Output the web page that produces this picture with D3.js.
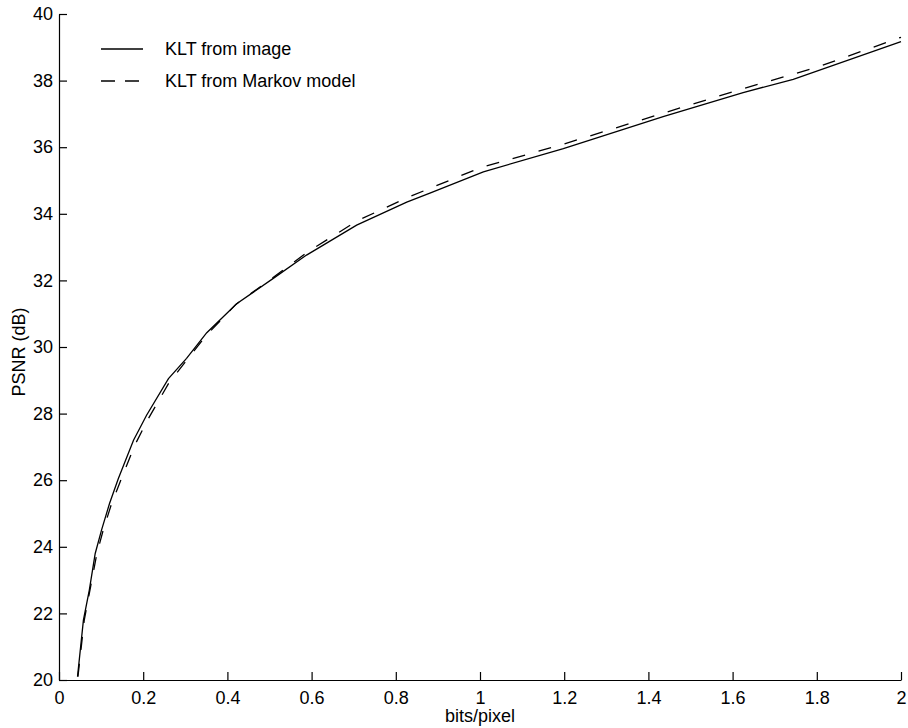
<!DOCTYPE html>
<html>
<head>
<meta charset="utf-8">
<script src="https://cdn.jsdelivr.net/npm/d3@7"></script>
<style>
  body { margin: 0; background: #fff; }
  text { font-family: "Liberation Sans", Arial, Helvetica, sans-serif; fill: #000; }
  .axis text { font-size: 18px; }
  .axis path, .axis line { stroke: #000; stroke-width: 1.2; }
</style>
</head>
<body>
<div id="chart"></div>
<script>
// CONST and GLOBALS
const width = 908,
  height = 728,
  margin = { top: 14, bottom: 48, left: 59, right: 7 };

// data (bits/pixel, PSNR dB)
const imageRate = [0.044, 0.058, 0.072, 0.086, 0.101, 0.12, 0.141, 0.177, 0.208, 0.26, 0.303, 0.351, 0.422, 0.509, 0.588, 0.707, 0.826, 0.881, 1.008, 1.198, 1.435, 1.625, 1.744, 2.0];
const imagePsnr = [20.1, 21.8, 22.7, 23.8, 24.5, 25.3, 26.05, 27.2, 27.95, 29.05, 29.66, 30.43, 31.3, 32.06, 32.76, 33.66, 34.35, 34.62, 35.26, 35.96, 36.92, 37.64, 38.04, 39.17];

const markovRate = [0.045, 0.06, 0.075, 0.09, 0.105, 0.125, 0.15, 0.18, 0.21, 0.26, 0.3, 0.35, 0.42, 0.51, 0.59, 0.71, 0.83, 1.0, 1.2, 1.44, 1.62, 1.8, 2.0];
const markovPsnr = [20.1, 21.8, 22.8, 23.8, 24.5, 25.3, 26.1, 27.05, 27.8, 28.9, 29.55, 30.35, 31.28, 32.1, 32.85, 33.8, 34.5, 35.38, 36.1, 37.04, 37.74, 38.4, 39.3];

const xTicks = [0, 0.2, 0.4, 0.6, 0.8, 1, 1.2, 1.4, 1.6, 1.8, 2];
const yTicks = [20, 22, 24, 26, 28, 30, 32, 34, 36, 38, 40];

const seriesNames = ['KLT from image', 'KLT from Markov model'];

const series = [
  { name: seriesNames[0], dash: null, values: imageRate.map((r, i) => ({ x: r, y: imagePsnr[i] })) },
  { name: seriesNames[1], dash: '13,14', values: markovRate.map((r, i) => ({ x: r, y: markovPsnr[i] })) },
];

const svg = d3
  .select('#chart')
  .append('svg')
  .attr('width', width)
  .attr('height', height);

// SCALES
const xScale = d3.scaleLinear().domain([0, 2]).range([margin.left, width - margin.right]);
const yScale = d3.scaleLinear().domain([20, 40]).range([height - margin.bottom, margin.top]);

// AXES (ticks point inward)
const xAxis = d3.axisBottom(xScale).tickValues(xTicks).tickFormat(d3.format('')).tickSizeInner(-8).tickSizeOuter(0).tickPadding(11);
const yAxis = d3.axisLeft(yScale).tickValues(yTicks).tickSizeInner(-8).tickSizeOuter(0).tickPadding(6);

svg.append('g')
  .attr('class', 'axis x-axis')
  .attr('transform', `translate(0,${height - margin.bottom})`)
  .call(xAxis);

svg.append('g')
  .attr('class', 'axis y-axis')
  .attr('transform', `translate(${margin.left},0)`)
  .call(yAxis);

// axis labels
svg.append('text')
  .attr('x', (margin.left + width - margin.right) / 2)
  .attr('y', 722)
  .attr('text-anchor', 'middle')
  .attr('font-size', 18)
  .text('bits/pixel');

svg.append('text')
  .attr('transform', 'translate(25,352) rotate(-90)')
  .attr('text-anchor', 'middle')
  .attr('font-size', 18)
  .text('PSNR (dB)');

// LINES
const line = d3.line()
  .x(d => xScale(d.x))
  .y(d => yScale(d.y));

svg.selectAll('.series')
  .data(series)
  .join('path')
  .attr('class', 'series')
  .attr('d', d => line(d.values))
  .attr('fill', 'none')
  .attr('stroke', '#000')
  .attr('stroke-width', 1.3)
  .attr('stroke-dasharray', d => d.dash);

// LEGEND
const legend = svg.append('g')
  .selectAll('g')
  .data(series)
  .join('g')
  .attr('transform', (d, i) => `translate(101,${49 + i * 32})`);

legend.append('line')
  .attr('x1', 0)
  .attr('x2', 42)
  .attr('stroke', '#000')
  .attr('stroke-width', 1.3)
  .attr('stroke-dasharray', d => d.dash ? '14,10' : null);

legend.append('text')
  .attr('x', 64)
  .attr('dy', '0.35em')
  .attr('font-size', 18)
  .text(d => d.name);
</script>
</body>
</html>
